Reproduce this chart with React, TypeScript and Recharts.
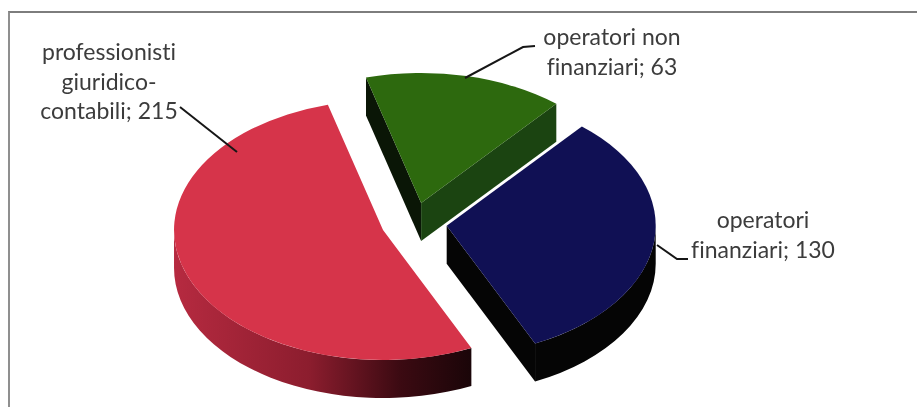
import { PieChart, Pie } from 'recharts';

const categories = ['operatori non finanziari', 'operatori finanziari', 'professionisti giuridico-contabili'];
const values = [63, 130, 215];

const sliceColors = ['#2d690e', '#101054', '#d6344a'];
const startFaceColors = ['#0a1606', '#050505', '#5c1018'];
const endFaceColors = ['#1b4411', '#050505', '#5c1018'];
const wallFills = ['#1b4411', '#050505', 'url(#redWall)'];

// wrapped label lines, the value gets appended to the last one
const labelLines = [
  ['operatori non', 'finanziari'],
  ['operatori', 'finanziari'],
  ['professionisti', 'giuridico-', 'contabili'],
];
const labelCenters = [
  [612, 38],
  [763, 221],
  [109, 53],
];
const leaders = [
  '535,46 523,47 465,78',
  '688,259 677,259 657,245',
  '180,107 237,152',
];

const pieData = categories.map((name, i) => ({ name, value: values[i], fill: sliceColors[i] }));

const TILT = 0.622;
const DEPTH = 38;
const EXPLODE = 33;
const rad = (a: number) => (a * Math.PI) / 180;

function Slice3D(props: any) {
  const { cx, cy, outerRadius: r, startAngle, endAngle, midAngle, fill, name } = props;
  const i = categories.indexOf(name);
  const ry = r * TILT;
  const x0 = cx + EXPLODE * Math.cos(rad(midAngle));
  const y0 = cy - EXPLODE * TILT * Math.sin(rad(midAngle));
  const pt = (a: number, dy = 0) => [x0 + r * Math.cos(rad(a)), y0 - ry * Math.sin(rad(a)) + dy];
  const arc = (a: number, b: number, dy = 0, sweep = 1) => {
    const [x, y] = pt(b, dy);
    const large = Math.abs(a - b) > 180 ? 1 : 0;
    return `A${r} ${ry} 0 ${large} ${sweep} ${x} ${y}`;
  };
  const [sx, sy] = pt(startAngle);
  const top = `M${x0} ${y0}L${sx} ${sy}${arc(startAngle, endAngle)}Z`;

  // front wall: only the part of the rim in the lower half of the ellipse
  const from = Math.min(startAngle, 0);
  const to = Math.max(endAngle, -180);
  let wall = '';
  if (from > to) {
    const [ax, ay] = pt(from);
    const [bx, by] = pt(to, DEPTH);
    wall = `M${ax} ${ay}${arc(from, to)}L${bx} ${by}${arc(to, from, DEPTH, 0)}Z`;
  }
  const face = (a: number) => {
    const [x, y] = pt(a);
    return `M${x0} ${y0}L${x} ${y}L${x} ${y + DEPTH}L${x0} ${y0 + DEPTH}Z`;
  };
  const showStart = Math.cos(rad(startAngle)) < 0;
  const showEnd = Math.cos(rad(endAngle)) > 0;

  return (
    <g>
      <defs>
        <linearGradient id="redWall" gradientUnits="userSpaceOnUse" x1="174" y1="0" x2="474" y2="0">
          <stop offset="0" stopColor="#b62a40" />
          <stop offset="0.45" stopColor="#8c1d2e" />
          <stop offset="0.75" stopColor="#3c0a12" />
          <stop offset="1" stopColor="#190508" />
        </linearGradient>
      </defs>
      {showStart && <path d={face(startAngle)} fill={startFaceColors[i]} />}
      {showEnd && <path d={face(endAngle)} fill={endFaceColors[i]} />}
      {wall && <path d={wall} fill={wallFills[i]} />}
      <path d={top} fill={fill} />
    </g>
  );
}

function DataLabel(props: any) {
  const i = props.index;
  const [x, y] = labelCenters[i];
  const lines = labelLines[i];
  return (
    <g>
      <polyline points={leaders[i]} fill="none" stroke="#161616" strokeWidth={2} />
      <text
        textAnchor="middle"
        fontFamily="Lato"
        fontSize={23}
        fill="#3c3c3c"
        style={{ fontVariantLigatures: 'none' }}
      >
        {lines.map((line, k) => (
          <tspan key={k} x={x} y={y + 7 + k * 29.5}>
            {k === lines.length - 1 ? `${line}; ${values[i]}` : line}
          </tspan>
        ))}
      </text>
    </g>
  );
}

export default function App() {
  return (
    <div style={{ position: 'absolute', left: 0, top: 0, width: 917, height: 407, background: '#fff', overflow: 'hidden' }}>
      {/* scanned box: only top and left edges are in frame */}
      <div
        style={{
          position: 'absolute',
          left: 8,
          top: 11,
          width: 909,
          height: 396,
          borderTop: '2px solid #7d7d7d',
          borderLeft: '2px solid #8f8f8f',
          boxSizing: 'border-box',
        }}
      />
      <div style={{ position: 'absolute', left: 0, top: 0, filter: 'blur(0.5px)' }}>
        <PieChart width={917} height={407} margin={{ top: 0, right: 0, bottom: 0, left: 0 }}>
          <Pie
            data={pieData}
            dataKey="value"
            nameKey="name"
            cx={414}
            cy={223}
            innerRadius={0}
            outerRadius={209}
            startAngle={105.3}
            endAngle={-254.7}
            stroke="none"
            shape={Slice3D}
            label={DataLabel}
            labelLine={false}
            isAnimationActive={false}
          />
        </PieChart>
      </div>
    </div>
  );
}
